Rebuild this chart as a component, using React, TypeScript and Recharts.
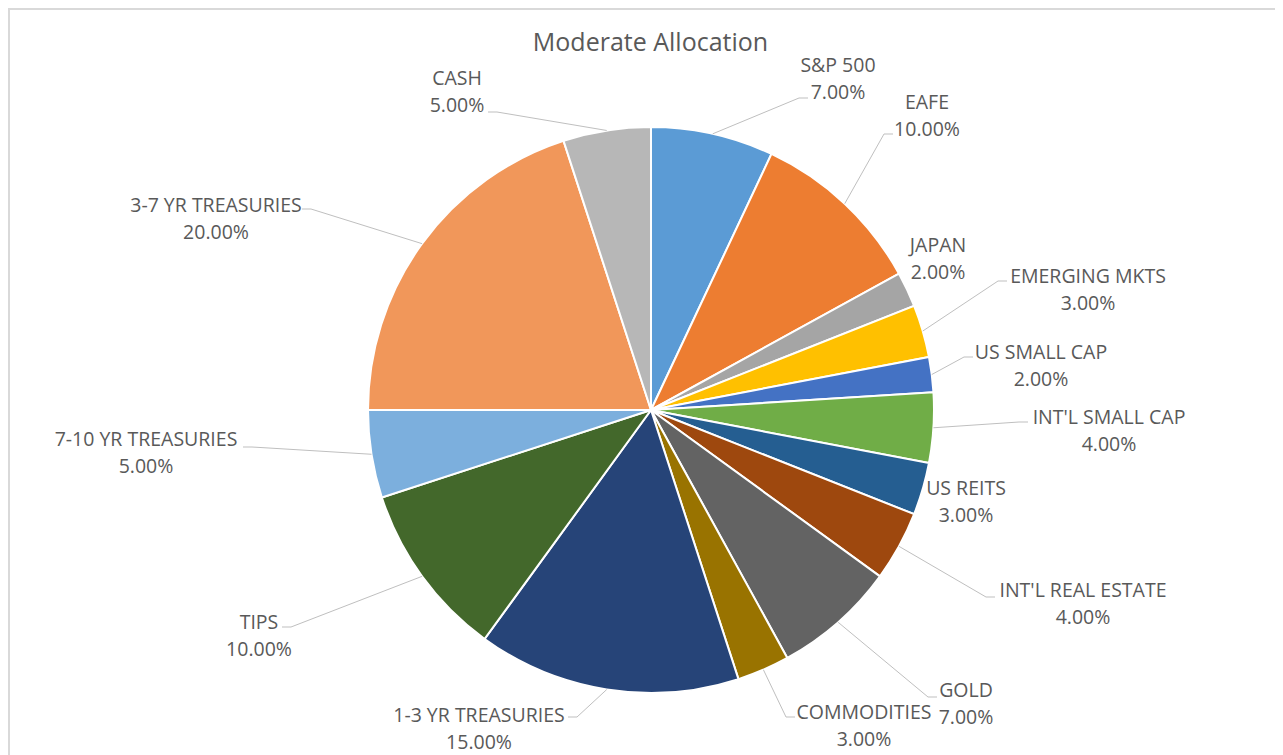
import { Cell, Pie, PieChart } from "recharts";

const categories = [
	"S&P 500",
	"EAFE",
	"JAPAN",
	"EMERGING MKTS",
	"US SMALL CAP",
	"INT'L SMALL CAP",
	"US REITS",
	"INT'L REAL ESTATE",
	"GOLD",
	"COMMODITIES",
	"1-3 YR TREASURIES",
	"TIPS",
	"7-10 YR TREASURIES",
	"3-7 YR TREASURIES",
	"CASH",
];

const weights = [7, 10, 2, 3, 2, 4, 3, 4, 7, 3, 15, 10, 5, 20, 5];

const colors = [
	"#5B9BD5",
	"#ED7D31",
	"#A5A5A5",
	"#FFC000",
	"#4472C4",
	"#70AD47",
	"#255E91",
	"#9E480E",
	"#636363",
	"#997300",
	"#264478",
	"#43682B",
	"#7CAFDD",
	"#F1975A",
	"#B7B7B7",
];

// label placement, offsets from the pie centre: text centre x, first line y, leader end
const labelLayout: Record<string, { tx: number; ty: number; end?: [number, number] }> = {
	"S&P 500": { tx: 187, ty: -345, end: [157, -312] },
	EAFE: { tx: 276, ty: -308, end: [242, -276] },
	JAPAN: { tx: 287, ty: -165 },
	"EMERGING MKTS": { tx: 437, ty: -134, end: [356, -129] },
	"US SMALL CAP": { tx: 390, ty: -58, end: [322, -53] },
	"INT'L SMALL CAP": { tx: 458, ty: 7, end: [377, 12] },
	"US REITS": { tx: 315, ty: 78 },
	"INT'L REAL ESTATE": { tx: 432, ty: 180, end: [344, 187] },
	GOLD: { tx: 315, ty: 280, end: [286, 287] },
	COMMODITIES: { tx: 213, ty: 302, end: [144, 307] },
	"1-3 YR TREASURIES": { tx: -172, ty: 305, end: [-83, 307] },
	TIPS: { tx: -392, ty: 212, end: [-369, 217] },
	"7-10 YR TREASURIES": { tx: -505, ty: 29, end: [-408, 37] },
	"3-7 YR TREASURIES": { tx: -435, ty: -205, end: [-349, -201] },
	CASH: { tx: -194, ty: -332, end: [-163, -298] },
};

const data = categories.map((name, i) => ({ name, value: weights[i] }));

const FONT = "'Open Sans', sans-serif";
const TEXT = "#595959";

function renderLabel(props: any) {
	const { cx, cy, midAngle, outerRadius, index } = props;
	const name = categories[index];
	const lay = labelLayout[name];
	const rad = Math.PI / 180;
	const sx = cx + outerRadius * Math.cos(-midAngle * rad);
	const sy = cy + outerRadius * Math.sin(-midAngle * rad);
	let leader = null;
	if (lay.end) {
		const ex = cx + lay.end[0];
		const ey = cy + lay.end[1];
		const dir = sx > ex ? 1 : -1;
		leader = (
			<polyline
				points={`${sx},${sy} ${ex + dir * 9},${ey} ${ex},${ey}`}
				fill="none"
				stroke="#BFBFBF"
				strokeWidth={1}
			/>
		);
	}
	const x = cx + lay.tx;
	const y = cy + lay.ty + 7;
	return (
		<g key={`lbl-${index}`}>
			{leader}
			<text x={x} y={y} textAnchor="middle" fill={TEXT} fontSize={19.5} fontFamily={FONT}>
				{name}
			</text>
			<text x={x} y={y + 27} textAnchor="middle" fill={TEXT} fontSize={19.5} fontFamily={FONT}>
				{`${weights[index].toFixed(2)}%`}
			</text>
		</g>
	);
}

export default function App() {
	return (
		<div
			style={{
				position: "relative",
				width: 1275,
				height: 747,
				boxSizing: "border-box",
				borderTop: "2px solid #D9D9D9",
				borderLeft: "2px solid #D9D9D9",
				background: "#fff",
				overflow: "hidden",
			}}
		>
			<div
				style={{
					position: "absolute",
					left: 0,
					width: 1281,
					top: 16,
					textAlign: "center",
					fontFamily: FONT,
					fontSize: 25,
					lineHeight: "30px",
					color: TEXT,
				}}
			>
				Moderate Allocation
			</div>
			<PieChart width={1273} height={745} margin={{ top: 0, right: 0, bottom: 0, left: 0 }}>
				<Pie
					data={data}
					dataKey="value"
					nameKey="name"
					cx={641}
					cy={400}
					outerRadius={283}
					startAngle={90}
					endAngle={-270}
					stroke="#FFFFFF"
					strokeWidth={2}
					label={renderLabel}
					labelLine={false}
					isAnimationActive={false}
				>
					{data.map((d, i) => (
						<Cell key={d.name} fill={colors[i]} />
					))}
				</Pie>
			</PieChart>
		</div>
	);
}
